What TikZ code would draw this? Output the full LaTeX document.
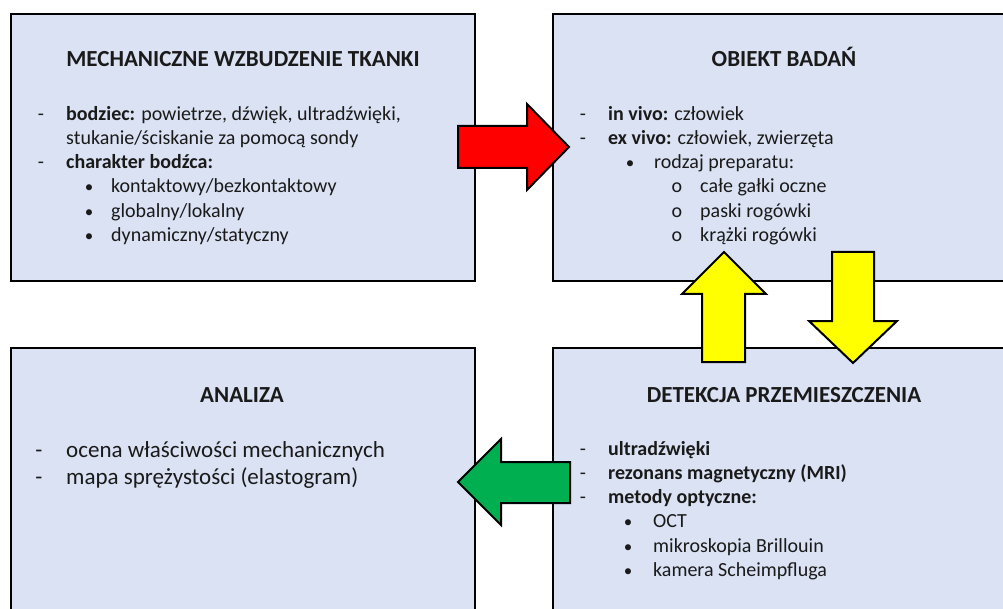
\documentclass[tikz,border=0pt]{standalone}
\usepackage{fontspec}
\setmainfont{Carlito}
\definecolor{boxfill}{HTML}{DAE2F3}
\definecolor{arrred}{HTML}{FF0000}
\definecolor{arrgreen}{HTML}{00B050}
\definecolor{arryellow}{HTML}{FFFF00}
\definecolor{txtcol}{HTML}{1A1A1A}
\tikzset{
  panel/.style={draw=black, line width=2.5pt, fill=boxfill},
  blockarrow/.style={draw=black, line width=2pt, line join=miter},
  ttl/.style={anchor=base, inner sep=0pt, text=txtcol, font=\fontsize{23}{27}\selectfont\bfseries},
  txt/.style={anchor=base west, inner sep=0pt, text=txtcol, font=\fontsize{20}{24}\selectfont},
  bigtxt/.style={anchor=base west, inner sep=0pt, text=txtcol, font=\fontsize{23}{27}\selectfont},
  mark1/.style={anchor=base, inner sep=0pt, text=txtcol, font=\fontsize{20}{24}\selectfont},
  dot1/.style={anchor=base, inner sep=0pt, text=txtcol, font=\fontsize{17}{24}\selectfont},
  bigmark/.style={anchor=base, inner sep=0pt, text=txtcol, font=\fontsize{23}{27}\selectfont},
}
\begin{document}
\begin{tikzpicture}[x=1pt, y=-1pt]
\useasboundingbox (0,0) rectangle (1003,609);
\fill[white] (0,0) rectangle (1003,609);
\begin{scope}
\clip (0,0) rectangle (1003,609);
% panels
\draw[panel] (11,14) rectangle (475,281);
\draw[panel] (553,14) rectangle (1020,281);
\draw[panel] (11,348) rectangle (475,630);
\draw[panel] (553,348) rectangle (1020,630);
\end{scope}
\coordinate (pTL) at (243,67);
\coordinate (pTR) at (784,67);
\coordinate (pBL) at (242,402);
\coordinate (pBR) at (784,402);

% titles
\node[ttl] (t1) at (pTL) {MECHANICZNE WZBUDZENIE TKANKI};
\node[ttl] (t2) at (pTR) {OBIEKT BADAŃ};
\node[ttl] (t3) at (pBL) {ANALIZA};
\node[ttl] (t4) at (pBR) {DETEKCJA PRZEMIESZCZENIA};

% top-left list
\node[mark1] (a1d) at (41,121) {-};
\node[txt] (a1) at (66,121) {\textbf{bodziec:} powietrze, dźwięk, ultradźwięki,};
\node[txt] (a2) at (66,145) {stukanie/ściskanie za pomocą sondy};
\node[mark1] (a3d) at (41,169) {-};
\node[txt] (a3) at (66,169) {\textbf{charakter bodźca:}};
\node[dot1] (a4d) at (89,193) {•};
\node[txt] (a4) at (111,193) {kontaktowy/bezkontaktowy};
\node[dot1] (a5d) at (89,218) {•};
\node[txt] (a5) at (111,218) {globalny/lokalny};
\node[dot1] (a6d) at (89,242) {•};
\node[txt] (a6) at (111,242) {dynamiczny/statyczny};

% top-right list
\node[mark1] (b1d) at (583,121) {-};
\node[txt] (b1) at (608,121) {\textbf{in vivo:} człowiek};
\node[mark1] (b2d) at (583,145) {-};
\node[txt] (b2) at (608,145) {\textbf{ex vivo:} człowiek, zwierzęta};
\node[dot1] (b3d) at (630,169) {•};
\node[txt] (b3) at (654,169) {rodzaj preparatu:};
\node[mark1] (b4d) at (677,193) {o};
\node[txt] (b4) at (700,193) {całe gałki oczne};
\node[mark1] (b5d) at (677,218) {o};
\node[txt] (b5) at (700,218) {paski rogówki};
\node[mark1] (b6d) at (677,242) {o};
\node[txt] (b6) at (700,242) {krążki rogówki};

% bottom-left list
\node[bigmark] (c1d) at (39,457) {-};
\node[bigtxt] (c1) at (66,457) {ocena właściwości mechanicznych};
\node[bigmark] (c2d) at (39,484) {-};
\node[bigtxt] (c2) at (66,484) {mapa sprężystości (elastogram)};

% bottom-right list
\node[mark1] (d1d) at (583,455) {-};
\node[txt] (d1) at (608,455) {\textbf{ultradźwięki}};
\node[mark1] (d2d) at (583,479) {-};
\node[txt] (d2) at (608,479) {\textbf{rezonans magnetyczny (MRI)}};
\node[mark1] (d3d) at (583,503) {-};
\node[txt] (d3) at (608,503) {\textbf{metody optyczne:}};
\node[dot1] (d4d) at (628,527) {•};
\node[txt] (d4) at (653,527) {OCT};
\node[dot1] (d5d) at (628,552) {•};
\node[txt] (d5) at (653,552) {mikroskopia Brillouin};
\node[dot1] (d6d) at (628,576) {•};
\node[txt] (d6) at (653,576) {kamera Scheimpfluga};

% block arrows
% red: right
\draw[blockarrow, fill=arrred] (458,126) -- (527,126) -- (527,104) -- (569,147) -- (527,190) -- (527,168) -- (458,168) -- cycle;
% green: left
\draw[blockarrow, fill=arrgreen] (570,462) -- (501,462) -- (501,439) -- (458,482) -- (501,525) -- (501,503) -- (570,503) -- cycle;
% yellow up
\draw[blockarrow, fill=arryellow] (702,362) -- (702,294) -- (682,294) -- (724,252) -- (766,294) -- (745,294) -- (745,362) -- cycle;
% yellow down
\draw[blockarrow, fill=arryellow] (832,252) -- (874,252) -- (874,321) -- (897,321) -- (853,363) -- (809,321) -- (832,321) -- cycle;
\end{tikzpicture}
\end{document}
